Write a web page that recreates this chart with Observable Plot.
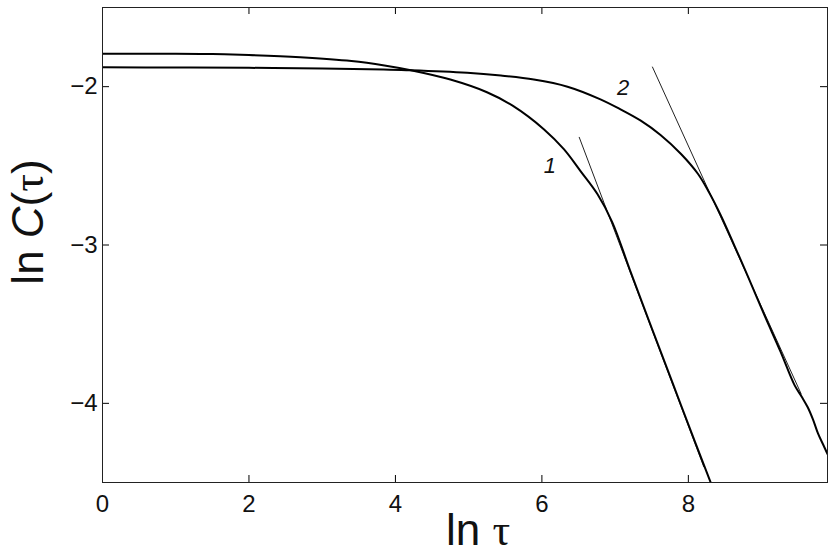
<!DOCTYPE html>
<html>
<head>
<meta charset="utf-8">
<script src="https://cdn.jsdelivr.net/npm/d3@7"></script>
<script src="https://cdn.jsdelivr.net/npm/@observablehq/plot@0.6"></script>
<style>
  html, body { margin: 0; padding: 0; background: #fff; }
  #chart { width: 834px; height: 559px; }
</style>
</head>
<body>
<div id="chart"></div>
<script>
// ---- data ----
const xDomain = [0, 9.9];
const yDomain = [-4.5, -1.5];
const xTicks = [0, 2, 4, 6, 8];
const yTicks = [-2, -3, -4];

const curve1X = [0, 1, 1.5, 2.0, 2.7, 3.4, 3.85, 4.21, 4.75, 5.25, 5.6, 6.03, 6.30, 6.53, 6.76, 6.96, 7.2, 7.5, 7.8, 8.1, 8.33];
const curve1Y = [-1.792, -1.792, -1.794, -1.80, -1.814, -1.838, -1.866, -1.896, -1.955, -2.035, -2.12, -2.27, -2.395, -2.535, -2.68, -2.855, -3.155, -3.525, -3.89, -4.255, -4.53];

const curve2X = [0, 1, 2, 3, 3.84, 4.21, 4.98, 5.44, 5.89, 6.35, 6.80, 7.08, 7.35, 7.62, 7.90, 8.13, 8.28, 8.44, 8.63, 8.81, 9.04, 9.26, 9.45, 9.55, 9.63, 9.70, 9.77, 9.84, 9.90];
const curve2Y = [-1.878, -1.879, -1.881, -1.886, -1.892, -1.896, -1.912, -1.93, -1.955, -2.0, -2.08, -2.145, -2.215, -2.305, -2.425, -2.55, -2.665, -2.81, -3.005, -3.195, -3.445, -3.675, -3.885, -3.96, -4.025, -4.10, -4.19, -4.26, -4.32];

const tangent1X = [6.51, 8.21];
const tangent1Y = [-2.32, -4.40];
const tangent2X = [7.51, 9.54];
const tangent2Y = [-1.876, -3.94];

const labelText = ["1", "2"];
const labelX = [6.11, 7.11];
const labelY = [-2.50, -2.011];

// ---- build tables ----
const c1 = curve1X.map((x, i) => ({x, y: curve1Y[i]}));
const c2 = curve2X.map((x, i) => ({x, y: curve2Y[i]}));
const t1 = tangent1X.map((x, i) => ({x, y: tangent1Y[i]}));
const t2 = tangent2X.map((x, i) => ({x, y: tangent2Y[i]}));
const labs = labelText.map((t, i) => ({t, x: labelX[i], y: labelY[i]}));

const font = "'Liberation Sans', Arial, Helvetica, sans-serif";
const ink = "#111";

const W = 834, H = 559;
const mL = 102, mR = 7, mT = 7, mB = 77;
const T = 7; // inward tick length (px)
const frameW = W - mL - mR, frameH = H - mT - mB;
const tickStyle = {stroke: "#000", strokeWidth: 1};

const chart = Plot.plot({
  width: W,
  height: H,
  marginLeft: mL,
  marginRight: mR,
  marginTop: mT,
  marginBottom: mB,
  style: {fontFamily: font, background: "#fff", color: ink},
  x: {domain: xDomain},
  y: {domain: yDomain},
  marks: [
    // inward ticks on all four sides
    Plot.tickX(xTicks, {x: d => d, insetTop: frameH - T, ...tickStyle}),
    Plot.tickX(xTicks, {x: d => d, insetBottom: frameH - T, ...tickStyle}),
    Plot.tickY(yTicks, {y: d => d, insetRight: frameW - T, ...tickStyle}),
    Plot.tickY(yTicks, {y: d => d, insetLeft: frameW - T, ...tickStyle}),
    // tick labels
    Plot.axisX(xTicks, {anchor: "bottom", tickSize: 0, tickPadding: 12, fontSize: 24, label: null, fill: ink, tickFormat: d => String(d)}),
    Plot.axisY(yTicks, {anchor: "left", tickSize: 0, tickPadding: 5, fontSize: 24, label: null, fill: ink, tickFormat: d => "\u2212" + Math.abs(d)}),
    // tangent lines
    Plot.line(t1, {x: "x", y: "y", stroke: "#222", strokeWidth: 1, clip: true}),
    Plot.line(t2, {x: "x", y: "y", stroke: "#222", strokeWidth: 1, clip: true}),
    // curves
    Plot.line(c1, {x: "x", y: "y", stroke: "#000", strokeWidth: 2, curve: "catmull-rom", clip: true}),
    Plot.line(c2, {x: "x", y: "y", stroke: "#000", strokeWidth: 2, curve: "catmull-rom", clip: true}),
    // curve labels
    Plot.text(labs, {x: "x", y: "y", text: "t", fontSize: 22, fontStyle: "italic", fill: ink}),
    Plot.frame({stroke: "#222", strokeWidth: 1})
  ]
});

document.getElementById("chart").appendChild(chart);

// axis titles
const svg = d3.select(chart);
const xt = svg.append("text")
  .attr("x", 446).attr("y", 545)
  .attr("text-anchor", "start")
  .attr("font-size", 44).attr("fill", ink)
  .attr("font-family", font);
xt.append("tspan").text("ln ");
xt.append("tspan").attr("font-family", "'Liberation Serif', 'Times New Roman', serif").text("\u03C4");

const yt = svg.append("text")
  .attr("transform", "translate(43,222) rotate(-90)")
  .attr("text-anchor", "middle")
  .attr("font-size", 44).attr("fill", ink)
  .attr("font-family", font);
yt.append("tspan").text("ln ");
yt.append("tspan").attr("font-style", "italic").text("C");
yt.append("tspan").text("(");
yt.append("tspan").attr("font-family", "'Liberation Serif', 'Times New Roman', serif").text("\u03C4");
yt.append("tspan").text(")");
</script>
</body>
</html>
